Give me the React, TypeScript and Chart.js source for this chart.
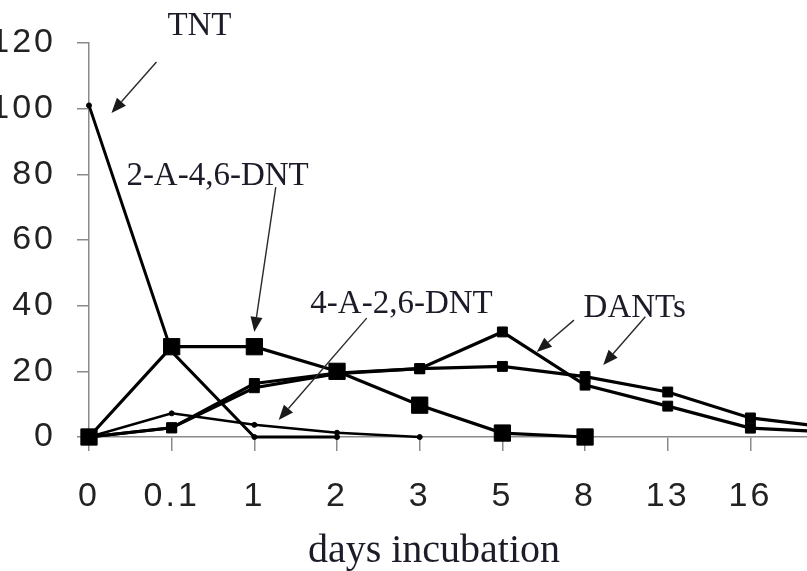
import React, { useEffect, useRef } from "react";
import { Chart, registerables } from "chart.js";

Chart.register(...registerables);

// ---- data ----
const categories = ["0", "0.1", "1", "2", "3", "5", "8", "13", "16", "20"];
const tntValues = [101, 26, 0, 0, null, null, null, null, null, null];
const a2dntValues = [0, 27.5, 27.5, 20, 9.7, 1.2, 0, null, null, null];
const a4dntValues = [0, 7.2, 3.7, 1.3, 0, null, null, null, null, null];
const dantsAValues = [0, 2.8, 16.3, 19.5, 20.8, 32, 15.8, 9.4, 2.7, 1.5];
const dantsBValues = [0, 2.8, 15, 19.3, 20.8, 21.5, 18.4, 13.7, 5.8, 2.8];
const yMin = 0;
const yMax = 120;
const yStep = 20;
const xTitle = "days incubation";

// annotation labels (data coordinates: category index, y value)
const noteLabels = [
  { text: "TNT", x: 1.336, y: 122.4 },
  { text: "2-A-4,6-DNT", x: 1.555, y: 76.8 },
  { text: "4-A-2,6-DNT", x: 3.78, y: 37.8 },
  { text: "DANTs", x: 6.6, y: 36.6 },
];
const noteArrows = [
  { x1: 0.816, y1: 114.2, x2: 0.272, y2: 98.7 },
  { x1: 2.259, y1: 76.1, x2: 1.999, y2: 32.0 },
  { x1: 3.359, y1: 36.2, x2: 2.294, y2: 5.2 },
  { x1: 5.866, y1: 35.6, x2: 5.416, y2: 25.9 },
  { x1: 6.729, y1: 36.6, x2: 6.22, y2: 21.9 },
];

const spacingPlugin = {
  id: "tickSpacing",
  beforeUpdate(chart: any) {
    chart.ctx.letterSpacing = "3px";
  },
  beforeDraw(chart: any) {
    chart.ctx.letterSpacing = "3px";
  },
};

const annotationPlugin = {
  id: "notes",
  afterDraw(chart: any) {
    const { ctx, scales, chartArea } = chart;
    const xs = scales.x;
    const ys = scales.y;
    ctx.save();
    ctx.letterSpacing = "0px";
    ctx.fillStyle = "#1c1c28";
    ctx.font = "33px 'Liberation Serif'";
    ctx.textAlign = "center";
    ctx.textBaseline = "alphabetic";
    for (const n of noteLabels) {
      ctx.fillText(n.text, xs.getPixelForValue(n.x), ys.getPixelForValue(n.y));
    }
    ctx.strokeStyle = "#2a2a2a";
    ctx.lineWidth = 1.4;
    for (const a of noteArrows) {
      const x1 = xs.getPixelForValue(a.x1);
      const y1 = ys.getPixelForValue(a.y1);
      const x2 = xs.getPixelForValue(a.x2);
      const y2 = ys.getPixelForValue(a.y2);
      const ang = Math.atan2(y2 - y1, x2 - x1);
      const hl = 15;
      const hw = 6;
      const bx = x2 - hl * Math.cos(ang);
      const by = y2 - hl * Math.sin(ang);
      ctx.beginPath();
      ctx.moveTo(x1, y1);
      ctx.lineTo(bx, by);
      ctx.stroke();
      ctx.beginPath();
      ctx.moveTo(x2, y2);
      ctx.lineTo(bx + hw * Math.sin(ang), by - hw * Math.cos(ang));
      ctx.lineTo(bx - hw * Math.sin(ang), by + hw * Math.cos(ang));
      ctx.closePath();
      ctx.fillStyle = "#1a1a1a";
      ctx.fill();
    }
    // x-axis title
    ctx.fillStyle = "#1c1c28";
    ctx.font = "40px 'Liberation Serif'";
    ctx.textAlign = "center";
    ctx.fillText(xTitle, chartArea.left + 345, chartArea.bottom + 125);
    ctx.restore();
  },
};

function lineDs(label: string, data: any[], style: string, radius: number, width: number) {
  return {
    label,
    data,
    borderColor: "#000",
    backgroundColor: "#000",
    borderWidth: width,
    pointStyle: style,
    pointRadius: radius,
    pointBorderWidth: 1,
    pointBackgroundColor: "#000",
    pointBorderColor: "#000",
    tension: 0,
    spanGaps: false,
    clip: false as any,
  };
}

export default function App() {
  const ref = useRef<HTMLCanvasElement>(null);
  useEffect(() => {
    if (!ref.current) return;
    const chart = new Chart(ref.current, {
      type: "line",
      data: {
        labels: categories,
        datasets: [
          lineDs("TNT", tntValues, "circle", 2.5, 3),
          lineDs("4-A-2,6-DNT", a4dntValues, "circle", 2.5, 2.5),
          lineDs("DANTs a", dantsAValues, "rect", 7, 3.2),
          lineDs("DANTs b", dantsBValues, "rect", 7, 3.2),
          lineDs("2-A-4,6-DNT", a2dntValues, "rect", 11.5, 3.2),
        ],
      },
      options: {
        responsive: false,
        animation: false,
        devicePixelRatio: 1,
        layout: { padding: { top: 43, right: 30, left: 0, bottom: 0 } },
        plugins: {
          legend: { display: false },
          tooltip: { enabled: false },
          title: { display: false },
        },
        scales: {
          x: {
            type: "category",
            offset: false,
            afterFit: (s: any) => {
              s.height = 134;
            },
            grid: {
              display: true,
              drawOnChartArea: false,
              drawTicks: true,
              tickLength: 14,
              color: "#8a8a8a",
              lineWidth: 1.5,
              offset: false,
            },
            border: { display: true, color: "#8a8a8a", width: 1.5 },
            ticks: {
              autoSkip: false,
              maxRotation: 0,
              padding: 25,
              color: "#222",
              font: { family: "'Liberation Sans'", size: 34 },
            },
          },
          y: {
            type: "linear",
            min: yMin,
            max: yMax,
            afterFit: (s: any) => {
              s.width = 129;
            },
            grid: {
              display: true,
              drawOnChartArea: false,
              drawTicks: true,
              tickLength: 12,
              color: "#8a8a8a",
              lineWidth: 1.5,
            },
            border: { display: true, color: "#8a8a8a", width: 1.5 },
            ticks: {
              stepSize: yStep,
              padding: 21,
              color: "#222",
              font: { family: "'Liberation Sans'", size: 34 },
            },
          },
        },
      },
      plugins: [spacingPlugin, annotationPlugin],
    });
    return () => chart.destroy();
  }, []);
  return (
    <div
      style={{
        position: "fixed",
        left: 0,
        top: 0,
        width: 807,
        height: 571,
        overflow: "hidden",
        background: "#fff",
      }}
    >
      <canvas
        ref={ref}
        width={920}
        height={571}
        style={{ position: "absolute", left: -40, top: 0 }}
      />
    </div>
  );
}
